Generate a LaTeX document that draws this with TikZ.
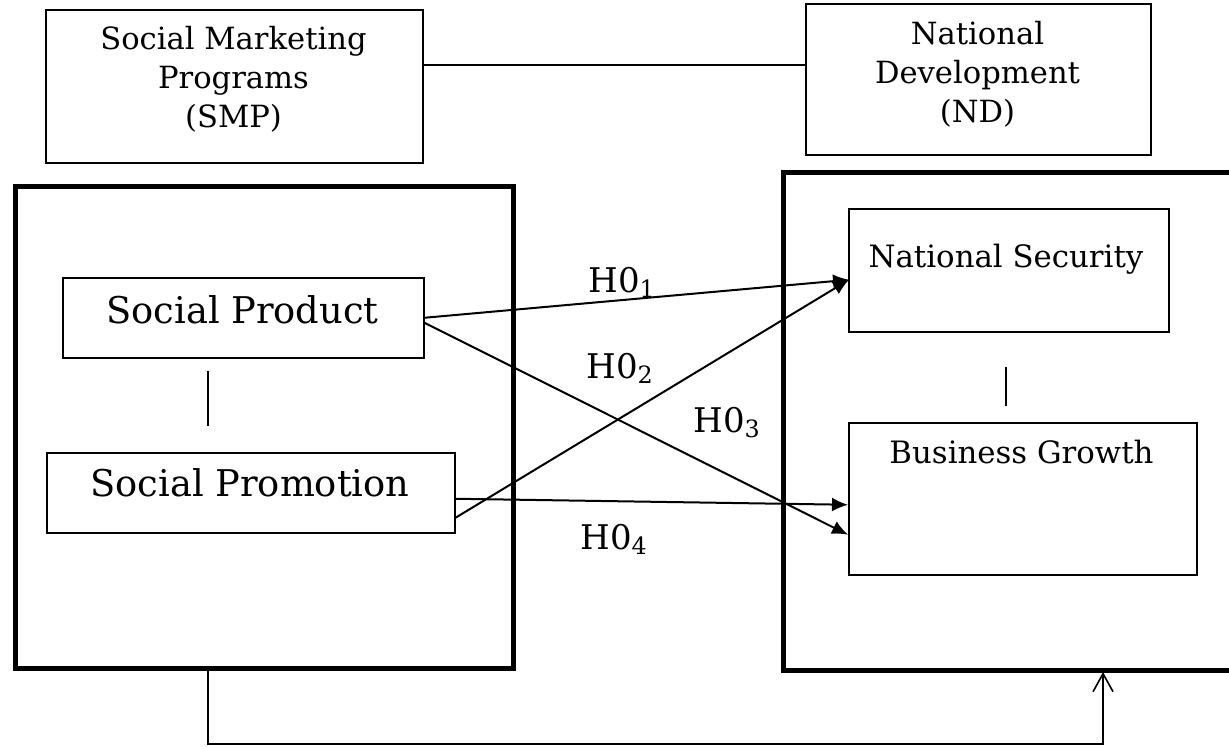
\documentclass[tikz,border=0pt]{standalone}
\usepackage{fontspec}
\setmainfont{DejaVu Serif}
\usetikzlibrary{arrows.meta,calc}
\begin{document}
\begin{tikzpicture}[x=0.5pt,y=-0.5pt,
  thinbox/.style={draw, line width=0.75pt, inner sep=0pt, rectangle, anchor=north west},
  bigbox/.style={draw, line width=2.6pt, inner sep=0pt, rectangle, anchor=north west},
  conn/.style={line width=0.55pt},
  hyp/.style={line width=1pt, -{Latex[length=8pt,width=7pt]}},
  hlabel/.style={font=\fontsize{17}{20}\selectfont, anchor=base west, inner sep=0pt},
  boxtext/.style={font=\fontsize{15.3}{19.5}\selectfont, align=center, inner sep=0pt},
  bigtext/.style={font=\fontsize{18.4}{22}\selectfont, anchor=base, inner sep=0pt},
  midtext/.style={font=\fontsize{15.4}{19}\selectfont, anchor=base, inner sep=0pt}
]
\useasboundingbox (0,0) rectangle (1229,746);
\clip (0,0) rectangle (1229,746);

% top boxes
\node[thinbox, minimum width=188.5pt, minimum height=76.5pt] (smp) at (45,9) {};
\node[thinbox, minimum width=172.5pt, minimum height=75.5pt] (nd) at (805,3) {};
\node[boxtext] (smpt) at (233.5,78.75) {Social Marketing\\Programs\\(SMP)};
\node[boxtext] (ndt) at (977.5,74) {National\\Development\\(ND)};
\coordinate (ylink) at (0,65);
\draw[conn] (smp.east |- ylink) -- (nd.west |- ylink);

% big frames
\node[bigbox, minimum width=249pt, minimum height=240.75pt] (lbig) at (13,184) {};
\node[bigbox, minimum width=240pt, minimum height=249pt] (rbig) at (781,170) {};

% inner boxes
\node[thinbox, minimum width=180.5pt, minimum height=40pt] (sp) at (62,277) {};
\node[thinbox, minimum width=204pt, minimum height=40pt] (sprom) at (46,452) {};
\node[thinbox, minimum width=160pt, minimum height=61.5pt] (ns) at (848,208) {};
\node[thinbox, minimum width=174pt, minimum height=76pt] (bg) at (848,422) {};

\node[bigtext] (spt) at (242.5,323) {Social Product};
\node[bigtext] (spromt) at (250,496) {Social Promotion};
\node[midtext] (nst) at (1006,267) {National Security};
\node[midtext] (bgt) at (1021.5,463) {Business Growth};

% vertical links
\coordinate (vl) at (208,0);
\coordinate (vr) at (1006,0);
\draw[conn, shorten <=6pt, shorten >=13pt] (sp.south -| vl) -- (sprom.north -| vl);
\draw[conn, shorten <=17pt, shorten >=8pt] (ns.south -| vr) -- (bg.north -| vr);

% hypotheses
\draw[hyp] (sp.east) -- ($(ns.west)+(1,9.5)$);
\draw[hyp] ($(sprom.east)+(0,25)$) -- ($(ns.west)+(1,9.5)$);
\draw[hyp] ($(sp.east)+(0,5)$) -- ($(bg.west)+(0,36)$);
\draw[hyp] ($(sprom.east)+(0,6)$) -- ($(bg.west)+(0,6)$);

\node[hlabel] (h1) at (588,292) {H0\textsubscript{1}};
\node[hlabel] (h2) at (586,378) {H0\textsubscript{2}};
\node[hlabel] (h3) at (693,432) {H0\textsubscript{3}};
\node[hlabel] (h4) at (580,549) {H0\textsubscript{4}};

% feedback connector
\coordinate (fb1) at (208,671);
\coordinate (fb2) at (1103,672);
\draw[line width=0.8pt, -{Straight Barb[length=9pt,width=10pt]}] (fb1) -- ++(0,73) -| (fb2);
\end{tikzpicture}
\end{document}
